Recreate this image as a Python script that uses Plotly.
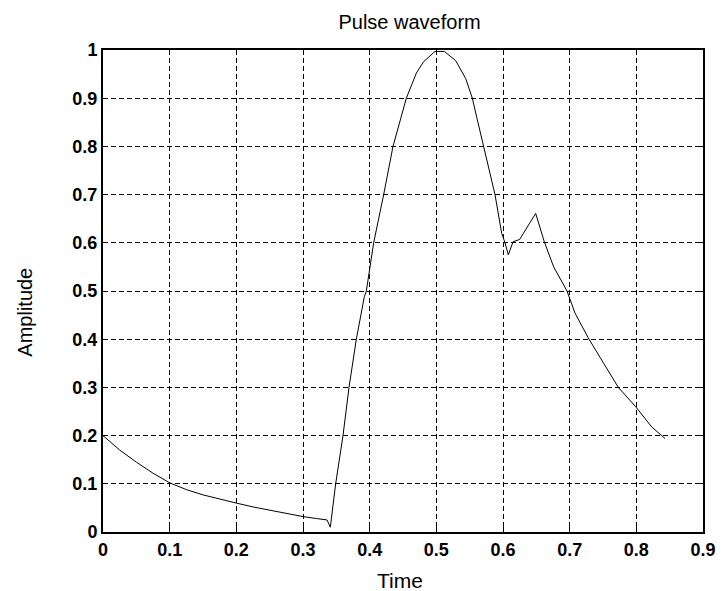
import plotly.graph_objects as go

time = [0, 0.025, 0.05, 0.075, 0.1, 0.125, 0.15, 0.175, 0.2, 0.225, 0.25, 0.275,
        0.3, 0.32, 0.336, 0.341, 0.349, 0.36, 0.369, 0.38, 0.392, 0.395, 0.406,
        0.421, 0.435, 0.455, 0.47, 0.481, 0.498, 0.512, 0.529, 0.544, 0.554,
        0.561, 0.571, 0.588, 0.598, 0.603, 0.608, 0.615, 0.625, 0.632, 0.649,
        0.662, 0.676, 0.696, 0.708, 0.729, 0.745, 0.773, 0.799, 0.823, 0.843]
amplitude = [0.2, 0.17, 0.145, 0.122, 0.102, 0.088, 0.077, 0.068, 0.06, 0.052,
             0.045, 0.038, 0.032, 0.028, 0.025, 0.01, 0.1, 0.2, 0.3, 0.4, 0.488,
             0.5, 0.6, 0.7, 0.8, 0.9, 0.952, 0.976, 0.997, 0.997, 0.978, 0.941,
             0.9, 0.858, 0.8, 0.7, 0.62, 0.6, 0.575, 0.602, 0.607, 0.623, 0.661,
             0.602, 0.55, 0.5, 0.454, 0.4, 0.364, 0.3, 0.26, 0.218, 0.194]

x_ticks = [0, 0.1, 0.2, 0.3, 0.4, 0.5, 0.6, 0.7, 0.8, 0.9]
y_ticks = [0, 0.1, 0.2, 0.3, 0.4, 0.5, 0.6, 0.7, 0.8, 0.9, 1]

title_text = "Pulse waveform"
x_title = "Time"
y_title = "Amplitude"

fig = go.Figure()
fig.add_trace(go.Scatter(x=time, y=amplitude, mode="lines",
                         line=dict(color="black", width=1), showlegend=False))

tickfont = dict(family="Liberation Sans, Arial", size=18, color="black", weight="bold")
common = dict(showgrid=True, gridcolor="black", gridwidth=1, griddash="5px,3px",
              showline=True, linecolor="black", linewidth=2, mirror="ticks",
              ticks="inside", ticklen=5, tickcolor="black", tickwidth=1,
              zeroline=False, tickfont=tickfont)

fig.update_xaxes(range=[0, 0.9], tickvals=x_ticks,
                 ticktext=[("%g" % v) for v in x_ticks], **common)
fig.update_yaxes(range=[0, 1], tickvals=y_ticks,
                 ticktext=[("%g" % v) for v in y_ticks], **common)

fig.update_layout(
    width=728, height=591,
    margin=dict(l=103, r=13, t=50, b=59),
    paper_bgcolor="white", plot_bgcolor="white",
    title=dict(text=title_text, x=0.511, xref="paper", xanchor="center",
               y=1 - 22 / 591, yref="container", yanchor="middle",
               font=dict(family="Liberation Sans, Arial", size=20, color="black")),
    annotations=[
        dict(text=x_title, xref="paper", yref="paper", x=0.495, y=-0.101,
             xanchor="center", yanchor="middle", showarrow=False,
             font=dict(family="Liberation Sans, Arial", size=21, color="black")),
        dict(text=y_title, xref="paper", yref="paper", x=-0.130, y=0.455,
             xanchor="center", yanchor="middle", showarrow=False, textangle=-90,
             font=dict(family="Liberation Sans, Arial", size=20, color="black")),
    ],
)

fig.write_html("out.html")
